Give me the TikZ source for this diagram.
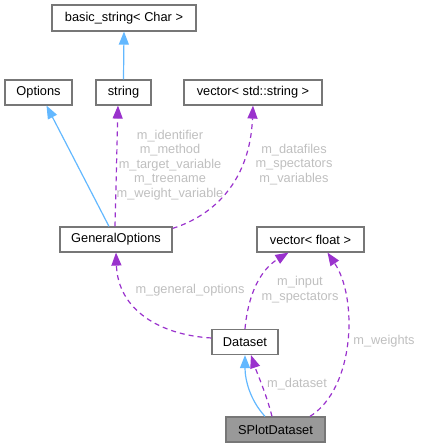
\documentclass[tikz,border=0pt]{standalone}
\usepackage{fontspec}
\setmainfont{Liberation Sans}
\usetikzlibrary{arrows.meta}
\definecolor{inhblue}{HTML}{63B8FF}
\definecolor{usepurple}{HTML}{9A32CD}
\definecolor{lblgray}{HTML}{BFBFBF}
\definecolor{boxline}{HTML}{777777}
\definecolor{curfill}{HTML}{999999}

\begin{document}
\begin{tikzpicture}[x=1pt, y=1pt, >={Triangle[length=13pt,width=10pt]}, font=\fontsize{12.8}{14.5}\selectfont]
\tikzstyle{cls}=[rectangle, draw=boxline, line width=1.2pt, fill=white, inner sep=0pt, minimum height=25pt]
\tikzstyle{inh}=[->, draw=inhblue, line width=1.2pt]
\tikzstyle{usage}=[->, draw=usepurple, line width=1.2pt, dash pattern=on 5pt off 4pt]
\tikzstyle{lbl}=[text=lblgray, align=center, inner sep=0pt]
\useasboundingbox (0,0) rectangle (421,448);
\node[cls, minimum width=144pt, minimum height=26pt] (basic) at (124,430) {basic\_string< Char >};
\node[cls, minimum width=67pt] (opts) at (38.5,355.5) {Options};
\node[cls, minimum width=55pt] (str) at (123.5,355.5) {string};
\node[cls, minimum width=138pt] (vstr) at (253,355.5) {vector< std::string >};
\node[cls, minimum width=112pt] (genopt) at (116,208.5) {GeneralOptions};
\node[cls, minimum width=107pt] (vflt) at (310.5,208.5) {vector< float >};
\node[cls, minimum width=66pt] (dataset) at (245,106) {Dataset};
\node[cls, minimum width=99pt, fill=curfill] (splot) at (275.5,18.5) {SPlotDataset};
\node[lbl] (l-ident) at (170,283) {m\_identifier\\m\_method\\m\_target\_variable\\m\_treename\\m\_weight\_variable};
\node[lbl] (l-files) at (294,283.5) {m\_datafiles\\m\_spectators\\m\_variables};
\node[lbl] (l-gen) at (190,158) {m\_general\_options};
\node[lbl] (l-input) at (300,158.5) {m\_input\\m\_spectators};
\node[lbl] (l-weights) at (384,107) {m\_weights};
\node[lbl] (l-data) at (297,64) {m\_dataset};
\draw[inh] (str.north) -- (basic.south);
\draw[inh] ([xshift=-7pt]genopt.north) -- ([xshift=8pt]opts.south);
\draw[usage] ([xshift=-1pt]genopt.north) -- ([xshift=-5.5pt]str.south);
\draw[usage] ([yshift=-2pt]genopt.north east) .. controls (215,233) and (250,268) .. (vstr.south);
\draw[usage] ([yshift=4pt]dataset.west) .. controls (160,113) and (118,138) .. (genopt.south);
\draw[usage] (dataset.north) .. controls (248,153) and (260,178) .. ([xshift=-22pt]vflt.south);
\draw[usage] ([xshift=34.5pt]splot.north) .. controls (355,60) and (358,150) .. ([xshift=17pt]vflt.south);
\draw[inh] ([xshift=-10.5pt]splot.north) .. controls (250,48) and (245,68) .. (dataset.south);
\draw[usage] ([xshift=-3.5pt]splot.north) .. controls (266,55) and (257,75) .. ([xshift=6pt]dataset.south);
\end{tikzpicture}
\end{document}
